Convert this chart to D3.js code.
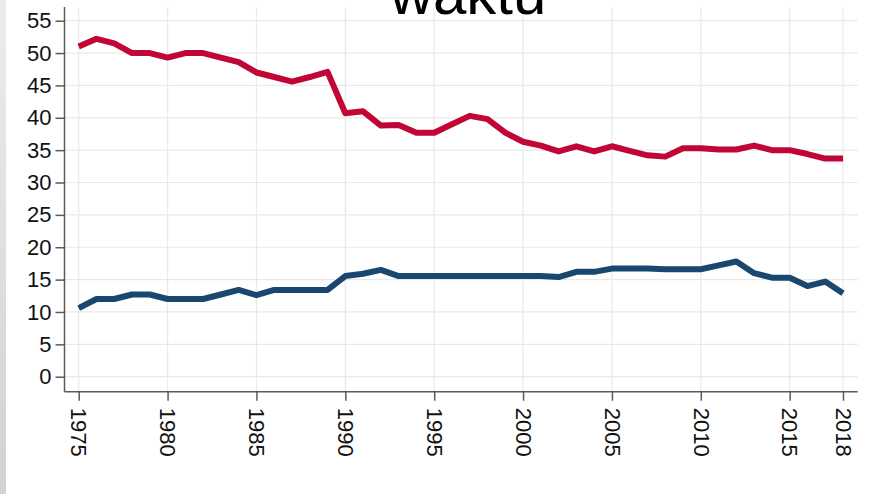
<!DOCTYPE html>
<html>
<head>
<meta charset="utf-8">
<script src="https://cdn.jsdelivr.net/npm/d3@7"></script>
<style>
  html, body { margin: 0; padding: 0; background: #fff; }
  svg { display: block; font-family: "Liberation Sans", Arial, sans-serif; }
</style>
</head>
<body>
<div id="chart"></div>
<script>
// Daten
const years = d3.range(1975, 2019);
const redValues = [51.0, 52.2, 51.5, 50.0, 50.0, 49.3, 50.0, 50.0, 49.3, 48.6,
                   47.0, 46.3, 45.6, 46.3, 47.1, 40.7, 41.0, 38.8, 38.9, 37.7,
                   37.7, 39.0, 40.3, 39.8, 37.7, 36.3, 35.7, 34.8, 35.6, 34.8,
                   35.6, 34.9, 34.2, 34.0, 35.3, 35.3, 35.1, 35.1, 35.7, 35.0,
                   35.0, 34.4, 33.7, 33.7];
const blueValues = [10.6, 12.0, 12.0, 12.7, 12.7, 12.0, 12.0, 12.0, 12.7, 13.4,
                    12.6, 13.4, 13.4, 13.4, 13.4, 15.55, 15.9, 16.5, 15.55, 15.55,
                    15.55, 15.55, 15.55, 15.55, 15.55, 15.55, 15.55, 15.4, 16.2, 16.2,
                    16.7, 16.7, 16.7, 16.6, 16.6, 16.6, 17.2, 17.8, 16.0, 15.3,
                    15.3, 14.0, 14.7, 12.9];
const yTicks = d3.range(0, 56, 5);
const xTicks = [1975, 1980, 1985, 1990, 1995, 2000, 2005, 2010, 2015, 2018];
const title = "waktu";

// Konfiguration
const width = 876;
const height = 494;
const axisLeft = 64.5, axisRight = 857.7, axisBottom = 391.7, gridTop = 7;

const svg = d3.select("#chart")
    .append("svg")
    .attr("width", width)
    .attr("height", height);

// grauer Rand links
const grad = svg.append("defs").append("linearGradient")
    .attr("id", "edge").attr("x1", 0).attr("y1", 0).attr("x2", 0).attr("y2", 1);
grad.append("stop").attr("offset", "0%").attr("stop-color", "#ececec");
grad.append("stop").attr("offset", "100%").attr("stop-color", "#d2d2d2");
svg.append("rect").attr("x", 0).attr("y", 0).attr("width", 6).attr("height", height)
    .attr("fill", "url(#edge)");

// Skalen
const x = d3.scaleLinear().domain([1975, 2018]).range([78.7, 843]);
const y = d3.scaleLinear().domain([0, 55]).range([376.7, 20.7]);

// Gitter
svg.append("g")
    .selectAll("line")
    .data(yTicks)
    .join("line")
    .attr("x1", axisLeft).attr("x2", axisRight)
    .attr("y1", d => y(d)).attr("y2", d => y(d))
    .attr("stroke", "#e9e9e9").attr("stroke-width", 1.2);

svg.append("g")
    .selectAll("line")
    .data(xTicks)
    .join("line")
    .attr("x1", d => x(d)).attr("x2", d => x(d))
    .attr("y1", gridTop).attr("y2", axisBottom)
    .attr("stroke", "#e9e9e9").attr("stroke-width", 1.2);

// Titel (oben abgeschnitten)
svg.append("text")
    .attr("x", 468).attr("y", 14)
    .attr("text-anchor", "middle")
    .attr("font-size", 60)
    .attr("fill", "#000")
    .text(title);

// Linien
const line = vals => d3.line()
    .x((d, i) => x(years[i]))
    .y(d => y(d))(vals);

svg.append("path")
    .attr("d", line(redValues))
    .attr("fill", "none")
    .attr("stroke", "#c10534")
    .attr("stroke-width", 6)
    .attr("stroke-linejoin", "round");

svg.append("path")
    .attr("d", line(blueValues))
    .attr("fill", "none")
    .attr("stroke", "#1a476f")
    .attr("stroke-width", 6)
    .attr("stroke-linejoin", "round");

// Y-Achse
const yAxis = svg.append("g")
    .attr("transform", `translate(${axisLeft},0)`)
    .call(d3.axisLeft(y).tickValues(yTicks).tickSize(9).tickPadding(4));
yAxis.select(".domain").attr("d", `M0,${gridTop}V${axisBottom}`);

// X-Achse
const xAxis = svg.append("g")
    .attr("transform", `translate(0,${axisBottom})`)
    .call(d3.axisBottom(x).tickValues(xTicks).tickFormat(d3.format("d")).tickSize(9));
xAxis.select(".domain").attr("d", `M${axisLeft},0H${axisRight}`);

xAxis.selectAll("text")
    .attr("transform", "rotate(90)")
    .attr("x", 16).attr("y", 0)
    .attr("dy", "0.35em")
    .attr("text-anchor", "start");

svg.selectAll(".domain, .tick line")
    .attr("stroke", "#5a5a5a").attr("stroke-width", 1.5);
svg.selectAll(".tick text")
    .attr("font-size", 22)
    .attr("font-family", "Liberation Sans, Arial, sans-serif")
    .attr("fill", "#111");
</script>
</body>
</html>
